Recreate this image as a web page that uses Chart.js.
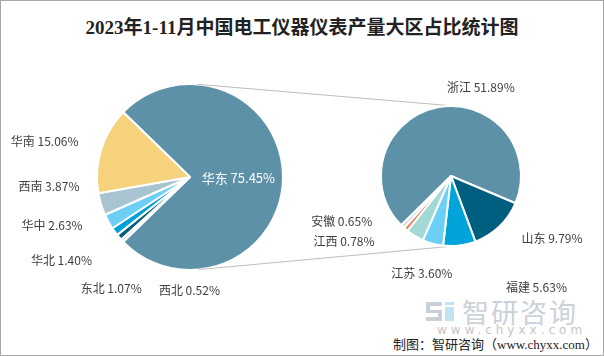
<!DOCTYPE html>
<html>
<head>
<meta charset="utf-8">
<script src="https://cdn.jsdelivr.net/npm/chart.js@4/dist/chart.umd.min.js"></script>
<style>
  html, body { margin: 0; padding: 0; background: #fff; }
  #wrap { position: relative; width: 604px; height: 356px; overflow: hidden; background: #fff; }
  #wrap canvas { position: absolute; left: 0; top: 0; }
  #frame { position: absolute; left: 0; top: 0; width: 602px; height: 354px; border: 1px solid #a6a6a6; pointer-events: none; }
  #title { position: absolute; left: 0; top: 12px; width: 604px; text-align: center;
    font: bold 19px "Liberation Serif", "Noto Sans CJK SC", serif; color: #222; }
  #logo { position: absolute; left: 462px; top: 297px; font: 27px "Noto Sans CJK SC", sans-serif; color: #cbd2d9; letter-spacing: 2px; line-height: 30px; }
  #icon1 { position: absolute; left: 426px; top: 302px; width: 16px; height: 19px; background: #c9d0d7; }
  #icon1b { position: absolute; left: 430px; top: 306px; width: 12px; height: 4px; background: #fff; }
  #icon1c { position: absolute; left: 426px; top: 313px; width: 12px; height: 4px; background: #fff; }
  #icon2 { position: absolute; left: 445px; top: 307px; width: 9px; height: 14px; background: #bfe3f2; }
  #icon2b { position: absolute; left: 445px; top: 302px; width: 9px; height: 3px; background: #bfe3f2; }
  #www { position: absolute; left: 437px; top: 323px; font: 12px "DejaVu Sans", sans-serif; color: #c5c5c5; letter-spacing: 4px; }
  #credit { position: absolute; left: 393px; top: 334px; font: 13px "Liberation Serif", "Noto Sans CJK SC", serif; color: #222; }
</style>
</head>
<body>
<div id="wrap">
  <div id="title">2023年1-11月中国电工仪器仪表产量大区占比统计图</div>
  <div id="icon1"></div><div id="icon1b"></div><div id="icon1c"></div>
  <div id="icon2b"></div><div id="icon2"></div>
  <div id="logo">智研咨询</div>
  <div id="www">www.chyxx.com</div>
  <div id="credit">制图：智研咨询（www.chyxx.com）</div>
  <canvas id="left" width="604" height="356"></canvas>
  <canvas id="right" width="604" height="356"></canvas>
  <div id="frame"></div>
</div>
<script>
// ---- data (drawing order, clockwise) ----
const regionNames  = ['华东', '西北', '东北', '华北', '华中', '西南', '华南'];
const regionShares = [75.45, 0.52, 1.07, 1.40, 2.63, 3.87, 15.06];
const provinceNames  = ['浙江', '山东', '福建', '江苏', '上海', '江西', '安徽'];
const provinceShares = [51.89, 9.79, 5.63, 3.60, 3.11, 0.78, 0.65];
const provinceLabelled = [true, true, true, true, false, true, true];

// ---- styles ----
const regionColors   = ['#5d91a8', '#c4dbe5', '#00607f', '#00a0dc', '#6ccff6', '#a7c4d0', '#f6d27c'];
const provinceColors = ['#5d91a8', '#005f80', '#00a3da', '#6ccff6', '#a3d9d4', '#ef8461', '#c9dde6'];

// label placement: [angle deg, distance in radii] relative to the pie centre
const regionLabelPlace = [[1, 0.52], [90.3, 1.22], [125.2, 1.47], [146.9, 1.65], [160.8, 1.57], [176.3, 1.52], [193.9, 1.61]];
const provinceLabelPlace = [[-71.3, 1.33], [31.9, 1.70], [52.6, 2.01], [106.7, 1.45], null, [148.6, 1.79], [157.5, 1.69]];

const sum = a => a.reduce((s, v) => s + v, 0);

function labelPlugin(names, values, places, insideIdx) {
  return {
    id: 'pieLabels',
    afterDatasetsDraw(chart) {
      const arc = chart.getDatasetMeta(0).data[0];
      const cx = arc.x, cy = arc.y, r = arc.outerRadius;
      const ctx = chart.ctx;
      ctx.save();
      ctx.textAlign = 'center';
      ctx.textBaseline = 'middle';
      names.forEach((n, i) => {
        const p = places[i];
        if (!p) return;
        const a = p[0] * Math.PI / 180;
        const x = cx + Math.cos(a) * p[1] * r;
        const y = cy + Math.sin(a) * p[1] * r;
        const inside = i === insideIdx;
        ctx.font = inside ? '13px "Noto Sans CJK SC", sans-serif' : '12px "Noto Sans CJK SC", sans-serif';
        ctx.fillStyle = inside ? '#ffffff' : '#404040';
        ctx.fillText(n + ' ' + values[i].toFixed(2) + '%', x, y);
      });
      ctx.restore();
    }
  };
}

const baseOpts = (padding, rotation) => ({
  responsive: false,
  animation: false,
  devicePixelRatio: 1,
  rotation: rotation,
  layout: { padding: padding },
  plugins: { legend: { display: false }, tooltip: { enabled: false } }
});

const leftSpan = regionShares[0] / sum(regionShares) * 360;
const leftChart = new Chart(document.getElementById('left'), {
  type: 'pie',
  data: { labels: regionNames, datasets: [{ data: regionShares, backgroundColor: regionColors, borderColor: '#ffffff', borderWidth: 2 }] },
  options: baseOpts({ left: 96, right: 320, top: 83, bottom: 85 }, 90 - leftSpan / 2),
  plugins: [labelPlugin(regionNames, regionShares, regionLabelPlace, 0)]
});

const connectorPlugin = {
  id: 'connector',
  beforeDatasetsDraw(chart) {
    const a1 = leftChart.getDatasetMeta(0).data[0];
    const a2 = chart.getDatasetMeta(0).data[0];
    const x1 = a1.x, y1 = a1.y, r1 = a1.outerRadius;
    const x2 = a2.x, y2 = a2.y, r2 = a2.outerRadius;
    const dx = x2 - x1, dy = y2 - y1, d = Math.hypot(dx, dy);
    const base = Math.atan2(dy, dx);
    const t = Math.acos((r1 - r2) / d);
    const ctx = chart.ctx;
    ctx.save();
    ctx.strokeStyle = '#bdbdbd';
    ctx.lineWidth = 1;
    [base - t, base + t].forEach(ang => {
      ctx.beginPath();
      ctx.moveTo(x1 + Math.cos(ang) * r1, y1 + Math.sin(ang) * r1);
      ctx.lineTo(x2 + Math.cos(ang) * r2, y2 + Math.sin(ang) * r2);
      ctx.stroke();
    });
    ctx.restore();
  }
};

const provPlaces = provinceLabelPlace.map((p, i) => provinceLabelled[i] ? p : null);
new Chart(document.getElementById('right'), {
  type: 'pie',
  data: { labels: provinceNames, datasets: [{ data: provinceShares, backgroundColor: provinceColors, borderColor: '#ffffff', borderWidth: 2 }] },
  options: baseOpts({ left: 380, right: 82, top: 105, bottom: 109 }, 225.3),
  plugins: [connectorPlugin, labelPlugin(provinceNames, provinceShares, provPlaces, -1)]
});
</script>
</body>
</html>
